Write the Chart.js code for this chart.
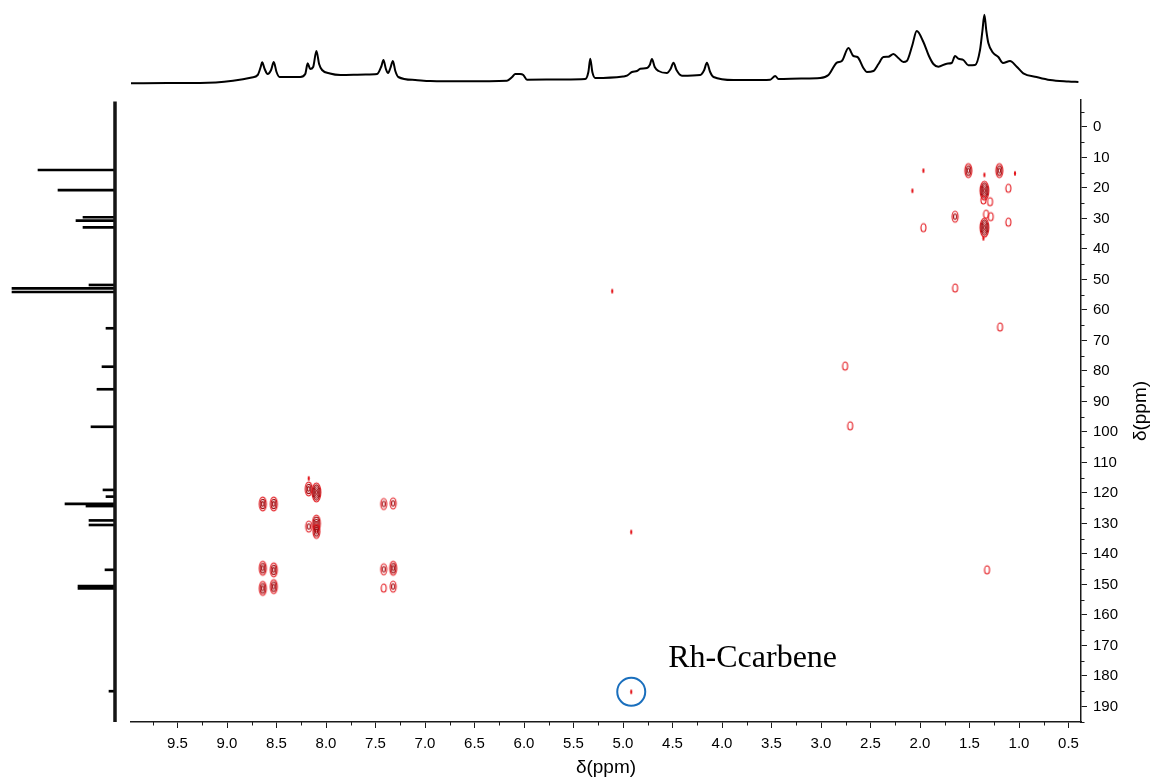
<!DOCTYPE html>
<html>
<head>
<meta charset="utf-8">
<title>HSQC</title>
<script src="https://cdn.jsdelivr.net/npm/chart.js@4.4.1/dist/chart.umd.min.js"></script>
<style>
  html, body { margin: 0; padding: 0; background: #fff; }
  #wrap { position: relative; width: 1156px; height: 781px; }
  #wrap canvas { position: absolute; left: 0; top: 0; }
</style>
</head>
<body>
<div id="wrap">
  <canvas id="main" width="1156" height="781"></canvas>
  <canvas id="top" width="1156" height="100"></canvas>
  <canvas id="side" width="131" height="781"></canvas>
</div>
<script>
// 1H projection (top trace): shift in ppm, intensity
const h1Shift = [9.97, 9.60, 9.27, 8.94, 8.75, 8.69, 8.66, 8.645, 8.62, 8.59, 8.555, 8.528, 8.50, 8.47,
  8.26, 8.21, 8.185, 8.16, 8.13, 8.097, 8.07, 8.04, 7.96, 7.855, 7.60, 7.484, 7.44, 7.42, 7.395, 7.373,
  7.35, 7.325, 7.30, 7.27, 7.10, 6.946, 6.60, 6.172, 6.12, 6.088, 6.04, 6.007, 5.970, 5.60, 5.381, 5.35,
  5.331, 5.31, 5.280, 5.00, 4.960, 4.910, 4.859, 4.826, 4.758, 4.73, 4.708, 4.68, 4.641, 4.557, 4.52,
  4.490, 4.46, 4.405, 4.220, 4.18, 4.153, 4.12, 4.086, 3.884, 3.60, 3.514, 3.463, 3.430, 3.20, 3.009,
  2.925, 2.840, 2.790, 2.723, 2.673, 2.632, 2.572, 2.538, 2.471, 2.420, 2.370, 2.320, 2.269, 2.219,
  2.168, 2.134, 2.08, 2.033, 1.966, 1.91, 1.865, 1.815, 1.730, 1.680, 1.646, 1.613, 1.562, 1.512,
  1.444, 1.394, 1.370, 1.350, 1.330, 1.310, 1.260, 1.209, 1.162, 1.091, 1.023, 0.957, 0.822, 0.687,
  0.50, 0.40]
const h1Intensity = [2.7, 2.9, 3.0, 5.3, 8.5, 11, 19, 23.7, 17, 12, 16, 24, 14, 9,
  9, 12, 22.7, 17, 19, 35, 22, 16, 12.5, 11, 11.5, 12, 20, 26, 17, 13,
  18, 25, 15, 9, 6, 5, 4.7, 5.3, 9, 12, 12, 11, 6.3, 6.5, 7, 14,
  27.3, 14, 8, 9.5, 10.3, 14, 15, 17.3, 18, 21, 27, 19, 15, 13, 17,
  23.3, 16, 10.3, 11, 16, 23.3, 14, 9, 6, 6, 6.3, 10, 7, 7.5, 8,
  11, 23.3, 25, 38, 30, 29, 18, 14, 15, 22, 29, 29.3, 32, 28,
  24, 25, 40, 55, 44, 30, 22, 19.3, 22.3, 23, 30, 27.3, 26, 20.7,
  21, 36, 55, 71.3, 55, 43, 33, 29, 23, 25, 19.3, 12.7, 9, 6,
  4.5, 4]

// 13C projection (left trace): shift in ppm, peak height
const c13Shift = [14.1, 20.7, 29.6, 30.7, 32.9, 51.8, 52.9, 54.1, 66.0, 78.6, 86.0, 98.3,
  119.0, 121.2, 123.6, 124.3, 129.0, 130.5, 145.2, 150.5, 151.3, 185.0]
const c13Height = [77, 57, 32, 39, 32, 26, 103, 103, 9, 13, 18, 24,
  12, 9, 50, 29, 26, 26, 10, 37, 37, 6]

// HSQC cross peaks: 1H shift, 13C shift, number of contour levels
const hsqcH = [1.966, 2.077, 1.512, 1.35, 1.199, 1.041, 1.35, 1.108, 1.36, 1.293, 1.646, 1.333,
  1.286, 1.35, 1.966, 1.108, 1.36, 1.646, 1.192, 5.109, 2.757, 2.706, 1.323, 4.917, 4.917,
  8.639, 8.528, 8.175, 8.175, 8.097, 8.175, 8.097, 8.097, 7.417, 7.322,
  8.639, 8.528, 8.639, 8.528, 7.417, 7.322, 7.417, 7.322]
const hsqcC = [14.3, 20.9, 14.3, 15.7, 14.3, 15.2, 20.9, 20.1, 23.9, 24.5, 29.4, 28.6,
  29.4, 33.0, 33.0, 31.2, 36.5, 52.8, 65.6, 53.8, 78.4, 98.0, 145.2, 132.8, 185.2,
  123.6, 123.6, 115.2, 118.7, 119.8, 131.0, 130.0, 132.6, 123.6, 123.4,
  144.7, 145.2, 151.3, 150.7, 145.0, 144.7, 151.2, 150.7]
const hsqcLevel = [0, 0, 3, 0, 3, 0, 5, 1, 1, 1, 2, 1,
  1, 5, 1, 1, 0, 1, 1, 0, 1, 1, 1, 0, 0,
  3, 3, 0, 3, 5, 2, 4, 3, 2, 2,
  3, 3, 3, 3, 2, 3, 1, 2]
const carbeneIndex = 24
const carbeneLabel = 'Rh-Ccarbene'

const H_MIN = 0.374, H_MAX = 9.97
const C_MIN = -8.85, C_MAX = 195.1

Chart.defaults.font.family = '"Liberation Sans", Arial, sans-serif'
Chart.defaults.color = '#000'

// contour glyphs, one per level
const ringSize = [null, [2.5, 4], [3, 5.5], [3.5, 7], [3.9, 8.5], [4.4, 9.5]]
function makeGlyph(level) {
  const c = document.createElement('canvas')
  const g = c.getContext('2d')
  if (level === 0) {
    c.width = 4; c.height = 7
    g.fillStyle = '#e3151b'
    g.beginPath(); g.ellipse(2, 3.5, 1.1, 2.6, 0, 0, Math.PI * 2); g.fill()
    return c
  }
  const [rx, ry] = ringSize[level]
  c.width = Math.ceil(rx * 2 + 4); c.height = Math.ceil(ry * 2 + 4)
  g.lineWidth = 1.1
  for (let k = level; k >= 1; k--) {
    g.strokeStyle = k === level ? '#e3151b' : '#a30d12'
    g.beginPath()
    g.ellipse(c.width / 2, c.height / 2, rx * k / level, ry * k / level, 0, 0, Math.PI * 2)
    g.stroke()
  }
  return c
}
const glyphs = [0, 1, 2, 3, 4, 5].map(makeGlyph)

// minor ticks, right-hand axis title and peak label
const decorations = {
  id: 'decorations',
  afterDraw(chart) {
    const { ctx, scales: { x, y }, chartArea } = chart
    ctx.save()
    ctx.strokeStyle = '#1a1a1a'
    ctx.lineWidth = 1
    ctx.beginPath()
    for (let v = 0.75; v < x.max; v += 0.5) {
      const px = Math.round(x.getPixelForValue(v)) + 0.5
      ctx.moveTo(px, chartArea.bottom); ctx.lineTo(px, chartArea.bottom + 3.5)
    }
    for (let v = -5; v < y.max; v += 10) {
      if (v < y.min) continue
      const py = Math.round(y.getPixelForValue(v)) + 0.5
      ctx.moveTo(chartArea.right, py); ctx.lineTo(chartArea.right + 3.5, py)
    }
    ctx.stroke()

    ctx.fillStyle = '#000'
    ctx.font = '19px "Liberation Sans", Arial, sans-serif'
    ctx.textAlign = 'center'
    ctx.textBaseline = 'middle'
    ctx.translate(chartArea.right + 60, (chartArea.top + chartArea.bottom) / 2)
    ctx.rotate(-Math.PI / 2)
    ctx.fillText('δ(ppm)', 0, 0)
    ctx.restore()

    const px = x.getPixelForValue(hsqcH[carbeneIndex])
    const py = y.getPixelForValue(hsqcC[carbeneIndex])
    ctx.save()
    ctx.fillStyle = '#000'
    ctx.font = '32px "Liberation Serif", "Times New Roman", serif'
    ctx.textAlign = 'left'
    ctx.textBaseline = 'alphabetic'
    ctx.fillText(carbeneLabel, px + 37, py - 25)
    ctx.restore()
  },
}

new Chart(document.getElementById('main'), {
  type: 'scatter',
  data: {
    datasets: [
      {
        data: hsqcH.map((h, i) => ({ x: h, y: hsqcC[i] })),
        pointStyle: ctx => glyphs[hsqcLevel[ctx.dataIndex] ?? 1],
        pointRadius: 5,
        pointHoverRadius: 5,
      },
      {
        data: [{ x: hsqcH[carbeneIndex], y: hsqcC[carbeneIndex] }],
        pointStyle: 'circle',
        pointRadius: 14,
        pointHoverRadius: 14,
        borderWidth: 2,
        borderColor: '#1a6fbd',
        backgroundColor: 'rgba(0,0,0,0)',
      },
    ],
  },
  options: {
    responsive: false,
    animation: false,
    events: [],
    layout: { padding: { left: 131, top: 100, right: 0, bottom: 0 } },
    plugins: { legend: { display: false }, tooltip: { enabled: false } },
    scales: {
      x: {
        type: 'linear',
        position: 'bottom',
        reverse: true,
        min: H_MIN,
        max: H_MAX,
        afterFit: s => { s.height = 59 },
        ticks: {
          stepSize: 0.5,
          includeBounds: false,
          autoSkip: false,
          maxRotation: 0,
          padding: 7,
          font: { size: 15 },
          callback: v => v.toFixed(1),
        },
        grid: { drawOnChartArea: false, drawTicks: true, tickLength: 6, color: '#1a1a1a', lineWidth: 1 },
        border: { display: true, color: '#1a1a1a', width: 1.5 },
        title: { display: true, text: 'δ(ppm)', font: { size: 19 }, padding: { top: 0, bottom: 2 } },
      },
      y: {
        type: 'linear',
        position: 'right',
        reverse: true,
        min: C_MIN,
        max: C_MAX,
        afterFit: s => { s.width = 75 },
        ticks: { stepSize: 10, includeBounds: false, autoSkip: false, padding: 6, font: { size: 15 } },
        grid: { drawOnChartArea: false, drawTicks: true, tickLength: 6, color: '#1a1a1a', lineWidth: 1 },
        border: { display: true, color: '#1a1a1a', width: 1.5 },
      },
    },
  },
  plugins: [decorations],
})

// 1H trace along the top
new Chart(document.getElementById('top'), {
  type: 'line',
  data: {
    datasets: [{
      data: h1Shift.map((h, i) => ({ x: h, y: h1Intensity[i] })),
      borderColor: '#000',
      borderWidth: 2,
      pointRadius: 0,
      cubicInterpolationMode: 'monotone',
    }],
  },
  options: {
    responsive: false,
    animation: false,
    events: [],
    layout: { padding: { left: 131, right: 75, top: 10, bottom: 14 } },
    plugins: { legend: { display: false }, tooltip: { enabled: false } },
    scales: {
      x: { type: 'linear', display: false, reverse: true, min: H_MIN, max: H_MAX },
      y: { type: 'linear', display: false, min: 0, max: 76 },
    },
  },
})

// 13C trace down the left side
new Chart(document.getElementById('side'), {
  type: 'bar',
  data: {
    datasets: [
      {
        type: 'line',
        data: [{ x: 0, y: C_MIN + 0.5 }, { x: 0, y: C_MAX }],
        borderColor: '#151515',
        borderWidth: 3.5,
        pointRadius: 0,
      },
      {
        data: c13Shift.map((c, i) => ({ x: c13Height[i], y: c })),
        backgroundColor: '#000',
        barThickness: 2,
      },
    ],
  },
  options: {
    indexAxis: 'y',
    responsive: false,
    animation: false,
    events: [],
    layout: { padding: { left: 0, right: 14, top: 100, bottom: 59 } },
    plugins: { legend: { display: false }, tooltip: { enabled: false } },
    scales: {
      x: { type: 'linear', display: false, reverse: true, min: -2, max: 115 },
      y: { type: 'linear', display: false, reverse: true, min: C_MIN, max: C_MAX, offset: false },
    },
  },
})
</script>
</body>
</html>
